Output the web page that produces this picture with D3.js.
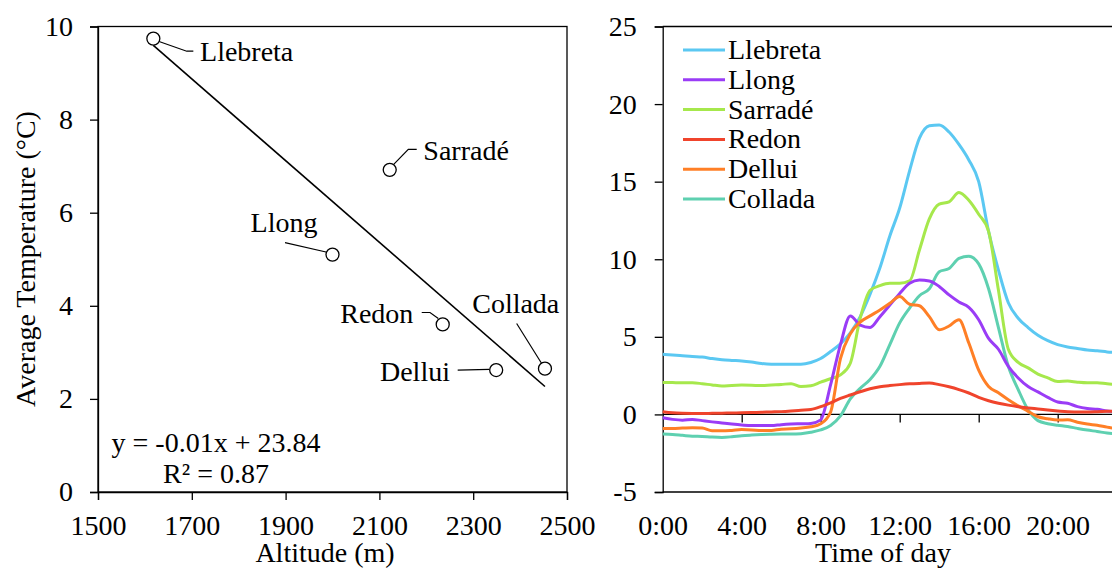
<!DOCTYPE html>
<html><head><meta charset="utf-8">
<script src="https://cdn.jsdelivr.net/npm/d3@7"></script>
<style>
body{margin:0;background:#fff}
svg{display:block}
text{font-family:"Liberation Serif","Times New Roman",serif;font-size:28px;fill:#000}
</style>
</head><body><svg id="c" width="1112" height="569"></svg>
<script>
// ---------- Left panel data ----------
const sites = ["Llebreta","Llong","Sarradé","Redon","Dellui","Collada"];
const altitude = [1618, 2000, 2122, 2235, 2349, 2453];
const avgTemp = [9.74, 5.10, 6.92, 3.60, 2.62, 2.65];
const altTicks = [1500,1700,1900,2100,2300,2500];
const tempTicks = [0,2,4,6,8,10];
const eqLines = ["y = -0.01x + 23.84", "R\u00B2 = 0.87"];

// ---------- Right panel data ----------
const hours = [0,0.5,1,1.5,2,2.5,3,3.5,4,4.5,5,5.5,6,6.5,7,7.5,8,8.5,9,9.5,10,10.5,11,11.5,12,12.5,13,13.5,14,14.5,15,15.5,16,16.5,17,17.5,18,18.5,19,19.5,20,20.5,21,21.5,22,22.5,23];
const llebreta = [3.87,3.83,3.78,3.73,3.7,3.6,3.52,3.48,3.45,3.38,3.28,3.24,3.24,3.24,3.24,3.35,3.6,4.05,4.55,5.25,6.3,7.75,9.45,11.5,13.3,15.7,17.8,18.6,18.65,18.2,17.4,16.4,15.0,11.8,9.3,7.2,6.2,5.6,5.1,4.75,4.5,4.35,4.25,4.15,4.1,4.03,3.98];
const llong = [-0.22,-0.32,-0.37,-0.32,-0.4,-0.48,-0.55,-0.62,-0.68,-0.72,-0.72,-0.72,-0.66,-0.62,-0.6,-0.58,-0.35,1.9,4.5,6.35,5.75,5.6,6.3,7.05,7.8,8.45,8.66,8.6,8.25,7.7,7.25,6.9,6.1,4.9,4.2,3.1,2.35,1.8,1.45,1.1,0.8,0.72,0.5,0.38,0.33,0.22,0.15];
const sarrade = [2.06,2.05,2.04,2.04,1.98,1.9,1.83,1.87,1.89,1.88,1.86,1.9,1.93,1.98,1.8,1.85,2.08,2.3,2.55,3.3,6.2,8.0,8.3,8.45,8.45,8.6,10.6,12.6,13.55,13.7,14.3,13.8,12.9,11.8,8.0,4.2,3.35,3.0,2.6,2.35,2.12,2.15,2.08,2.04,2.04,1.97,1.93];
const redon = [0.17,0.1,0.07,0.06,0.06,0.07,0.08,0.09,0.1,0.12,0.14,0.16,0.18,0.22,0.27,0.32,0.5,0.75,1.03,1.25,1.46,1.65,1.78,1.86,1.92,1.97,2.0,2.02,1.92,1.78,1.6,1.38,1.1,0.88,0.72,0.6,0.5,0.42,0.35,0.28,0.22,0.17,0.16,0.15,0.17,0.2,0.22];
const dellui = [-0.9,-0.9,-0.88,-0.86,-0.88,-1.05,-1.06,-1.03,-0.98,-1.0,-1.04,-1.03,-0.95,-0.93,-0.88,-0.8,-0.6,0.15,3.6,5.2,5.95,6.35,6.73,7.16,7.6,7.1,7.0,6.3,5.45,5.7,6.1,4.6,2.85,1.8,1.4,0.95,0.55,0.2,-0.15,-0.28,-0.36,-0.35,-0.5,-0.62,-0.7,-0.82,-0.92];
const collada = [-1.27,-1.3,-1.35,-1.4,-1.42,-1.46,-1.48,-1.44,-1.37,-1.33,-1.3,-1.28,-1.27,-1.27,-1.24,-1.15,-1.0,-0.72,-0.1,1.0,1.68,2.25,3.1,4.5,5.9,6.85,7.65,8.1,9.2,9.4,10.05,10.2,9.7,8.1,5.6,3.1,1.6,0.3,-0.4,-0.6,-0.7,-0.78,-0.9,-1.01,-1.1,-1.2,-1.25];
const seriesNames = ["Llebreta","Llong","Sarradé","Redon","Dellui","Collada"];
const seriesValues = [llebreta, llong, sarrade, redon, dellui, collada];
const seriesColors = ["#5BC8F2","#9A3CF6","#A6E84C","#F0442C","#FF7F26","#5ED0B0"];
const timeTicks = [0,4,8,12,16,20,24];
const timeTickLabels = ["0:00","4:00","8:00","12:00","16:00","20:00"];
const tTempTicks = [-5,0,5,10,15,20,25];

// ---------- Layout (not data) ----------
const labelLayout = [
  {path:[[5,2.6],[33.4,12.6],[40,12.6]], tx:46.7, ty:21.9, anchor:"start"},
  {path:[[-47.5,-12],[-6.5,-2.6]], tx:-48.5, ty:-22.6, anchor:"middle"},
  {path:[[3.5,-5],[18.6,-20.5],[27,-20.5]], tx:33.6, ty:-10.2, anchor:"start"},
  {path:[[-21,-11.9],[-12.7,-11.9],[-4.4,-5.9]], tx:-29.4, ty:-1.9, anchor:"end"},
  {path:[[-38.5,0.1],[-6.9,-0.6]], tx:-46.2, ty:10.8, anchor:"end"},
  {path:[[-28.3,-45.2],[-3.3,-5.2]], tx:-29.2, ty:-55.2, anchor:"middle"}
];

const svg = d3.select("#c");
svg.append("rect").attr("width",1112).attr("height",569).attr("fill","#fff");

const SW = 1.3;
const plain = d => String(d);
// ================= LEFT PANEL =================
const xA = d3.scaleLinear().domain([1500,2500]).range([98,567]);
const yA = d3.scaleLinear().domain([0,10]).range([492,26.5]);
const L = svg.append("g");

L.append("rect").attr("x",xA(1500)).attr("y",yA(10))
  .attr("width",xA(2500)-xA(1500)).attr("height",yA(0)-yA(10))
  .attr("fill","none").attr("stroke","#000").attr("stroke-width",SW);

const axXA = L.append("g").attr("transform",`translate(0,${yA(0)})`)
  .call(d3.axisBottom(xA).tickValues(altTicks).tickSize(8).tickPadding(15).tickFormat(plain));
const axYA = L.append("g").attr("transform",`translate(${xA(1500)},0)`)
  .call(d3.axisLeft(yA).tickValues(tempTicks).tickSize(8).tickPadding(17).tickFormat(plain));
[axXA, axYA].forEach(a=>{
  a.selectAll("path,line").attr("stroke","#000").attr("stroke-width",SW);
  a.selectAll("text").style("font-size","28px").style("font-family",'"Liberation Serif","Times New Roman",serif');
});

// regression trendline computed from the data
const mx = d3.mean(altitude), my = d3.mean(avgTemp);
let sxy=0, sxx=0;
altitude.forEach((x,i)=>{ sxy += (x-mx)*(avgTemp[i]-my); sxx += (x-mx)*(x-mx); });
const slope = sxy/sxx, icpt = my - slope*mx;
const x0 = d3.min(altitude), x1 = d3.max(altitude);
L.append("line").attr("x1",xA(x0)).attr("y1",yA(icpt+slope*x0))
  .attr("x2",xA(x1)).attr("y2",yA(icpt+slope*x1))
  .attr("stroke","#000").attr("stroke-width",1.6);

// leader lines + labels
sites.forEach((s,i)=>{
  const px = xA(altitude[i]), py = yA(avgTemp[i]);
  const lay = labelLayout[i];
  L.append("path").attr("d", d3.line()(lay.path.map(p=>[px+p[0],py+p[1]])))
    .attr("fill","none").attr("stroke","#000").attr("stroke-width",1.2);
  L.append("text").attr("x",px+lay.tx).attr("y",py+lay.ty)
    .attr("text-anchor",lay.anchor).text(s);
});
L.selectAll("circle.pt").data(altitude).join("circle")
  .attr("class","pt").attr("cx",d=>xA(d)).attr("cy",(d,i)=>yA(avgTemp[i]))
  .attr("r",6.5).attr("fill","#fff").attr("stroke","#000").attr("stroke-width",1.3);

L.append("text").attr("x",216).attr("y",452).attr("text-anchor","middle").text(eqLines[0]);
L.append("text").attr("x",216).attr("y",483).attr("text-anchor","middle").text(eqLines[1]);

L.append("text").attr("x",325).attr("y",562).attr("text-anchor","middle").text("Altitude (m)");
L.append("text").attr("transform","translate(35,259) rotate(-90)")
  .attr("text-anchor","middle").text("Average Temperature (\u00B0C)");

// ================= RIGHT PANEL =================
const xT = d3.scaleLinear().domain([0,24]).range([662.7,1136.7]);
const yT = d3.scaleLinear().domain([-5,25]).range([492,26.5]);
const R = svg.append("g");

R.append("line").attr("x1",xT(0)).attr("x2",1112).attr("y1",yT(25)).attr("y2",yT(25))
  .attr("stroke","#000").attr("stroke-width",SW);
R.append("line").attr("x1",xT(0)).attr("x2",1112).attr("y1",yT(-5)).attr("y2",yT(-5))
  .attr("stroke","#000").attr("stroke-width",SW);

const axY = R.append("g").attr("transform",`translate(${xT(0)},0)`)
  .call(d3.axisLeft(yT).tickValues(tTempTicks).tickSize(8).tickPadding(18).tickFormat(plain));
const axX0 = R.append("g").attr("transform",`translate(0,${yT(0)})`)
  .call(d3.axisBottom(xT).tickValues(timeTicks.filter(d=>d>0)).tickSize(8).tickSizeOuter(0).tickFormat(""));
axX0.select("path.domain").attr("d",`M${xT(0)},0H1112`);
const axXL = R.append("g").attr("transform",`translate(0,${yT(-5)})`)
  .call(d3.axisBottom(xT).tickValues(timeTicks.slice(0,timeTickLabels.length)).tickSize(0).tickPadding(23).tickFormat((d,i)=>timeTickLabels[i]));
axXL.select("path.domain").remove();
[axY, axX0, axXL].forEach(a=>{
  a.selectAll("path,line").attr("stroke","#000").attr("stroke-width",SW);
  a.selectAll("text").style("font-size","28px").style("font-family",'"Liberation Serif","Times New Roman",serif');
});

const line = d3.line().x((d,i)=>xT(hours[i])).y(d=>yT(d)).curve(d3.curveMonotoneX);
const order = [0,2,5,1,4,3];
order.forEach(k=>{
  R.append("path").attr("d",line(seriesValues[k])).attr("fill","none")
    .attr("stroke",seriesColors[k]).attr("stroke-width",3).attr("stroke-linejoin","round");
});

// legend
seriesNames.forEach((n,i)=>{
  const yy = 50 + i*29.8;
  R.append("line").attr("x1",683).attr("x2",725).attr("y1",yy).attr("y2",yy)
    .attr("stroke",seriesColors[i]).attr("stroke-width",3);
  R.append("text").attr("x",728).attr("y",yy+9).text(n);
});

R.append("text").attr("x",883).attr("y",562).attr("text-anchor","middle").text("Time of day");
</script>
</body></html>
